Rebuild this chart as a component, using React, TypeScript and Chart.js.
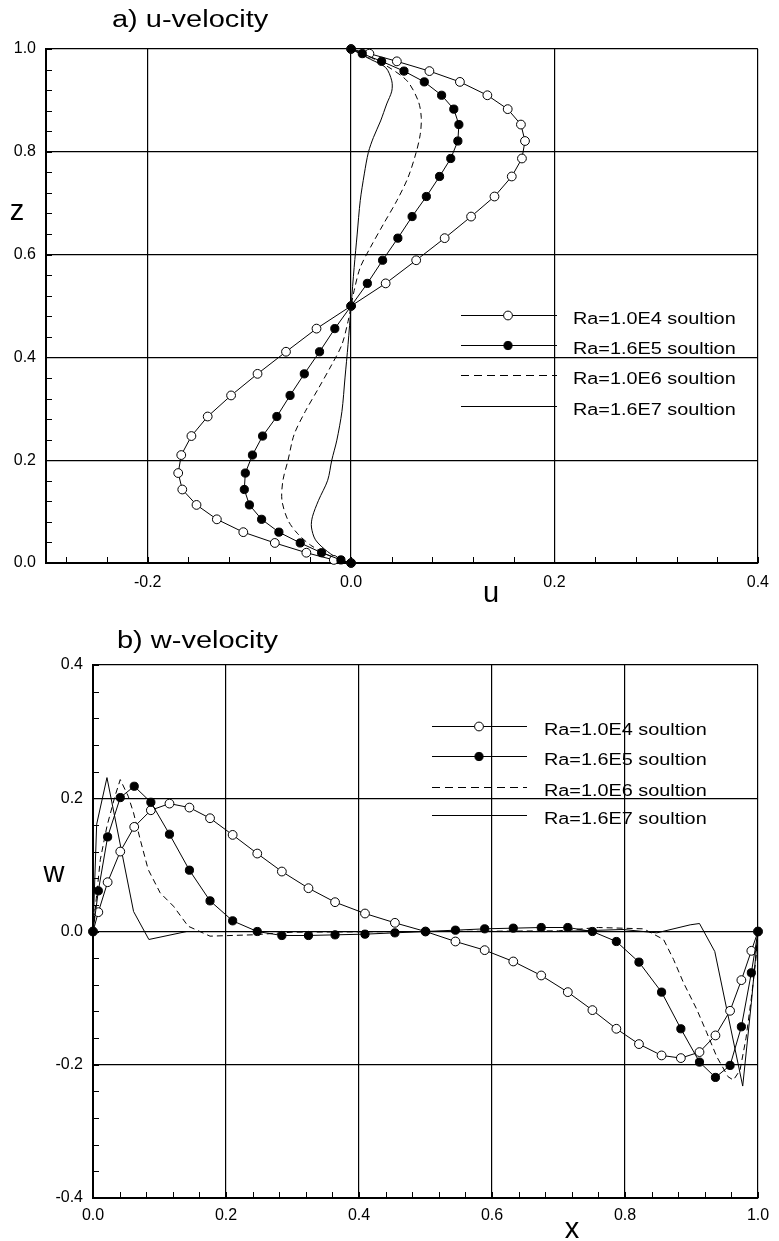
import React, { useEffect, useRef } from "react";
import { Chart, registerables } from "chart.js";

Chart.register(...registerables);

const FONT = '"Liberation Sans", Arial, Helvetica, sans-serif';

// ---------- a) u-velocity (vertical centre line) ----------
const zMarked = [1.0, 0.991, 0.976, 0.957, 0.936, 0.910, 0.883, 0.853, 0.821, 0.787, 0.752, 0.713, 0.674, 0.632, 0.589, 0.544, 0.500, 0.456, 0.411, 0.368, 0.326, 0.285, 0.247, 0.210, 0.175, 0.143, 0.113, 0.085, 0.060, 0.039, 0.020, 0.006, 0.0];
const uRa1e4 = [0, 0.018, 0.045, 0.077, 0.107, 0.134, 0.154, 0.167, 0.171, 0.168, 0.158, 0.141, 0.118, 0.092, 0.064, 0.034, 0, -0.034, -0.064, -0.092, -0.118, -0.141, -0.157, -0.167, -0.170, -0.166, -0.152, -0.132, -0.106, -0.075, -0.044, -0.017, 0];
const uRa16e5 = [0, 0.011, 0.030, 0.052, 0.072, 0.089, 0.101, 0.106, 0.105, 0.098, 0.087, 0.074, 0.060, 0.046, 0.031, 0.016, 0, -0.016, -0.031, -0.046, -0.060, -0.073, -0.087, -0.097, -0.104, -0.105, -0.100, -0.088, -0.071, -0.050, -0.029, -0.010, 0];
const zRa1e6 = [1.0, 0.988, 0.967, 0.938, 0.899, 0.867, 0.834, 0.799, 0.750, 0.705, 0.660, 0.614, 0.575, 0.530, 0.500, 0.470, 0.425, 0.386, 0.340, 0.295, 0.250, 0.200, 0.161, 0.122, 0.083, 0.058, 0.035, 0.016, 0.003, 0.0];
const uRa1e6 = [0, 0.015, 0.035, 0.055, 0.066, 0.069, 0.068, 0.064, 0.056, 0.045, 0.032, 0.019, 0.009, 0.003, 0, -0.003, -0.009, -0.019, -0.032, -0.045, -0.056, -0.062, -0.067, -0.068, -0.062, -0.053, -0.040, -0.023, -0.007, 0];
const zRa16e7 = [1.0, 0.980, 0.964, 0.938, 0.918, 0.893, 0.860, 0.828, 0.799, 0.757, 0.705, 0.640, 0.575, 0.500, 0.425, 0.360, 0.295, 0.239, 0.200, 0.161, 0.122, 0.090, 0.070, 0.045, 0.022, 0.006, 0.0];
const uRa16e7 = [0, 0.019, 0.034, 0.040, 0.040, 0.035, 0.029, 0.022, 0.017, 0.013, 0.009, 0.006, 0.003, 0, -0.003, -0.006, -0.009, -0.014, -0.019, -0.023, -0.032, -0.038, -0.039, -0.035, -0.023, -0.010, 0];

// ---------- b) w-velocity (horizontal centre line) ----------
const xMarked = [0, 0.008, 0.022, 0.041, 0.062, 0.087, 0.115, 0.145, 0.176, 0.210, 0.247, 0.284, 0.324, 0.364, 0.409, 0.454, 0.500, 0.545, 0.589, 0.632, 0.674, 0.714, 0.751, 0.787, 0.821, 0.855, 0.884, 0.912, 0.936, 0.958, 0.975, 0.990, 1.0];
const wRa1e4 = [0, 0.029, 0.074, 0.120, 0.157, 0.182, 0.192, 0.186, 0.170, 0.145, 0.117, 0.090, 0.065, 0.044, 0.027, 0.013, 0, -0.015, -0.028, -0.045, -0.066, -0.091, -0.118, -0.146, -0.169, -0.186, -0.190, -0.181, -0.156, -0.119, -0.073, -0.029, 0];
const wRa16e5 = [0, 0.061, 0.142, 0.201, 0.218, 0.194, 0.146, 0.092, 0.046, 0.016, 0.0, -0.006, -0.006, -0.005, -0.004, -0.002, 0, 0.002, 0.004, 0.005, 0.006, 0.006, 0.0, -0.015, -0.046, -0.091, -0.146, -0.196, -0.219, -0.201, -0.143, -0.062, 0];
const xRa1e6 = [0, 0.005, 0.011, 0.021, 0.033, 0.041, 0.053, 0.061, 0.071, 0.083, 0.101, 0.121, 0.143, 0.176, 0.240, 0.300, 0.500, 0.700, 0.760, 0.828, 0.858, 0.873, 0.888, 0.908, 0.923, 0.938, 0.955, 0.963, 0.973, 0.982, 0.990, 0.997, 1.0];
const wRa1e6 = [0, 0.050, 0.108, 0.158, 0.203, 0.228, 0.203, 0.178, 0.138, 0.093, 0.058, 0.038, 0.008, -0.007, -0.005, -0.001, 0, 0.001, 0.006, 0.004, -0.012, -0.042, -0.077, -0.117, -0.152, -0.188, -0.218, -0.223, -0.208, -0.160, -0.100, -0.040, 0];
const xRa16e7 = [0, 0.0055, 0.021, 0.061, 0.084, 0.141, 0.300, 0.500, 0.700, 0.797, 0.848, 0.898, 0.912, 0.935, 0.977, 0.990, 1.0];
const wRa16e7 = [0, 0.161, 0.231, 0.030, -0.012, 0.0, 0.0, 0.0, 0.0, 0.003, -0.002, 0.010, 0.012, -0.030, -0.232, -0.107, 0];

// ---------- labels / ticks ----------
const seriesLabels = ["Ra=1.0E4 soultion", "Ra=1.6E5 soultion", "Ra=1.0E6 soultion", "Ra=1.6E7 soultion"];
const uTicks = [-0.3, -0.2, 0.0, 0.2, 0.4];
const zTicks = [0.0, 0.2, 0.4, 0.6, 0.8, 1.0];
const xTicks = [0.0, 0.2, 0.4, 0.6, 0.8, 1.0];
const wTicks = [-0.4, -0.2, 0.0, 0.2, 0.4];
const MINOR_STEP = 0.04;

type Kind = "open" | "filled" | "dashed" | "solid";
const kinds: Kind[] = ["open", "filled", "dashed", "solid"];

function pts(xs: number[], ys: number[]) {
  return xs.map((x, i) => ({ x, y: ys[i] }));
}

function makeDataset(label: string, data: any[], kind: Kind, smooth: boolean) {
  const base: any = {
    label,
    data,
    showLine: true,
    borderColor: "#000",
    borderWidth: 1,
    backgroundColor: "#000",
    clip: false,
    tension: smooth ? 0.3 : 0,
    pointHoverRadius: 0,
  };
  if (kind === "open")
    return { ...base, pointRadius: 4.4, pointBackgroundColor: "#fff", pointBorderColor: "#000", pointBorderWidth: 1, order: 1 };
  if (kind === "filled")
    return { ...base, pointRadius: 4.1, pointBackgroundColor: "#000", pointBorderColor: "#000", pointBorderWidth: 1, order: 0 };
  if (kind === "dashed") return { ...base, pointRadius: 0, borderDash: [6, 4], order: 2 };
  return { ...base, pointRadius: 0, order: 3 };
}

function drawText(ctx: CanvasRenderingContext2D, text: string, x: number, y: number, size: number, align: CanvasTextAlign, sx: number) {
  ctx.save();
  ctx.font = `${size}px ${FONT}`;
  ctx.fillStyle = "#000";
  ctx.textBaseline = "alphabetic";
  ctx.translate(x, y);
  ctx.scale(sx, 1);
  ctx.textAlign = align;
  ctx.fillText(text, 0, 0);
  ctx.restore();
}

type Decor = {
  title: string;
  titleX: number;
  titleY: number;
  xLabel: string;
  xLabelX: number;
  xLabelY: number;
  yLabel: string;
  yLabelX: number;
  yLabelY: number;
  legend: { x1: number; x2: number; mx: number; tx: number; rows: number[] };
};

function decorPlugin(cfg: Decor) {
  return {
    id: "decor",
    afterDraw(chart: any) {
      const ctx: CanvasRenderingContext2D = chart.ctx;
      const xs = chart.scales.x;
      const ys = chart.scales.y;
      const a = chart.chartArea;
      // inward minor ticks
      ctx.save();
      ctx.strokeStyle = "#000";
      ctx.lineWidth = 1;
      ctx.beginPath();
      const nx = Math.round((xs.max - xs.min) / MINOR_STEP) + 1;
      const x0 = Math.ceil(xs.min / MINOR_STEP - 1e-6);
      for (let k = 0; k <= nx; k++) {
        const v = (x0 + k) * MINOR_STEP;
        if (v > xs.max + 1e-9) break;
        const px = Math.round(xs.getPixelForValue(v)) + 0.5;
        ctx.moveTo(px, a.bottom);
        ctx.lineTo(px, a.bottom - 6);
      }
      const ny = Math.round((ys.max - ys.min) / MINOR_STEP) + 1;
      const y0 = Math.ceil(ys.min / MINOR_STEP - 1e-6);
      for (let k = 0; k <= ny; k++) {
        const v = (y0 + k) * MINOR_STEP;
        if (v > ys.max + 1e-9) break;
        const py = Math.round(ys.getPixelForValue(v)) + 0.5;
        ctx.moveTo(a.left, py);
        ctx.lineTo(a.left + 6, py);
      }
      ctx.stroke();
      ctx.restore();

      // title and axis names
      drawText(ctx, cfg.title, cfg.titleX, cfg.titleY, 23, "left", 1.26);
      drawText(ctx, cfg.xLabel, cfg.xLabelX, cfg.xLabelY, 29, "center", 1);
      drawText(ctx, cfg.yLabel, cfg.yLabelX, cfg.yLabelY, 29, "center", 1);

      // legend
      const L = cfg.legend;
      chart.data.datasets.forEach((ds: any, i: number) => {
        const y = L.rows[i];
        ctx.save();
        ctx.strokeStyle = "#000";
        ctx.lineWidth = 1;
        ctx.setLineDash(ds.borderDash ? [8, 5] : []);
        ctx.beginPath();
        ctx.moveTo(L.x1, y + 0.5);
        ctx.lineTo(L.x2, y + 0.5);
        ctx.stroke();
        ctx.setLineDash([]);
        if (ds.pointRadius > 0) {
          ctx.beginPath();
          ctx.arc(L.mx, y + 0.5, ds.pointRadius, 0, Math.PI * 2);
          ctx.fillStyle = ds.pointBackgroundColor;
          ctx.fill();
          ctx.stroke();
        }
        ctx.restore();
        drawText(ctx, ds.label, L.tx, y + 9, 16, "left", 1.24);
      });
    },
  };
}

function scaleCfg(min: number, max: number, ticks: number[], axis: "x" | "y", fitSize: number, pad: number, hideMin: boolean) {
  return {
    type: "linear",
    min,
    max,
    afterBuildTicks: (s: any) => {
      s.ticks = ticks.map((v) => ({ value: v }));
    },
    afterFit: (s: any) => {
      if (axis === "x") s.height = fitSize;
      else s.width = fitSize;
    },
    grid: { color: "#000", lineWidth: 1.2, drawTicks: false },
    border: { display: true, color: "#000", width: 2 },
    ticks: {
      color: "#000",
      font: { family: FONT, size: 16 },
      padding: pad,
      autoSkip: false,
      maxRotation: 0,
      callback: (v: any) => (hideMin && v === min ? "" : Number(v).toFixed(1)),
    },
  };
}

function PlotCanvas({ config, width, height }: { config: any; width: number; height: number }) {
  const ref = useRef<HTMLCanvasElement | null>(null);
  useEffect(() => {
    if (!ref.current) return;
    const chart = new Chart(ref.current, config);
    return () => chart.destroy();
  }, []);
  return <canvas ref={ref} width={width} height={height} style={{ display: "block", width, height }} />;
}

function configU() {
  const sets = [
    makeDataset(seriesLabels[0], pts(uRa1e4, zMarked), kinds[0], false),
    makeDataset(seriesLabels[1], pts(uRa16e5, zMarked), kinds[1], false),
    makeDataset(seriesLabels[2], pts(uRa1e6, zRa1e6), kinds[2], true),
    makeDataset(seriesLabels[3], pts(uRa16e7, zRa16e7), kinds[3], true),
  ];
  return {
    type: "scatter",
    data: { datasets: sets },
    options: {
      responsive: false,
      animation: false,
      events: [],
      layout: { padding: { left: 0, right: 15, top: 49, bottom: 0 } },
      plugins: { legend: { display: false }, tooltip: { enabled: false }, title: { display: false } },
      scales: {
        x: scaleCfg(-0.3, 0.4, uTicks, "x", 57, 10, true),
        y: scaleCfg(0, 1, zTicks, "y", 46, 10, false),
      },
    },
    plugins: [
      decorPlugin({
        title: "a) u-velocity",
        titleX: 112,
        titleY: 27,
        xLabel: "u",
        xLabelX: 491,
        xLabelY: 602,
        yLabel: "z",
        yLabelX: 17,
        yLabelY: 220,
        legend: { x1: 461, x2: 557, mx: 508, tx: 573, rows: [315, 345, 375, 406] },
      }),
    ],
  };
}

function configW() {
  const sets = [
    makeDataset(seriesLabels[0], pts(xMarked, wRa1e4), kinds[0], false),
    makeDataset(seriesLabels[1], pts(xMarked, wRa16e5), kinds[1], false),
    makeDataset(seriesLabels[2], pts(xRa1e6, wRa1e6), kinds[2], false),
    makeDataset(seriesLabels[3], pts(xRa16e7, wRa16e7), kinds[3], false),
  ];
  return {
    type: "scatter",
    data: { datasets: sets },
    options: {
      responsive: false,
      animation: false,
      events: [],
      layout: { padding: { left: 0, right: 21, top: 45, bottom: 0 } },
      plugins: { legend: { display: false }, tooltip: { enabled: false }, title: { display: false } },
      scales: {
        x: scaleCfg(0, 1, xTicks, "x", 43, 8, false),
        y: scaleCfg(-0.4, 0.4, wTicks, "y", 93, 10, false),
      },
    },
    plugins: [
      decorPlugin({
        title: "b) w-velocity",
        titleX: 117,
        titleY: 28,
        xLabel: "x",
        xLabelX: 572,
        xLabelY: 618,
        yLabel: "w",
        yLabelX: 54,
        yLabelY: 262,
        legend: { x1: 432, x2: 527, mx: 479, tx: 544, rows: [106, 136, 167, 195] },
      }),
    ],
  };
}

export default function App() {
  return (
    <div style={{ position: "absolute", left: 0, top: 0, width: 779, height: 1241, background: "#fff" }}>
      <PlotCanvas config={configU()} width={779} height={620} />
      <PlotCanvas config={configW()} width={779} height={621} />
    </div>
  );
}
